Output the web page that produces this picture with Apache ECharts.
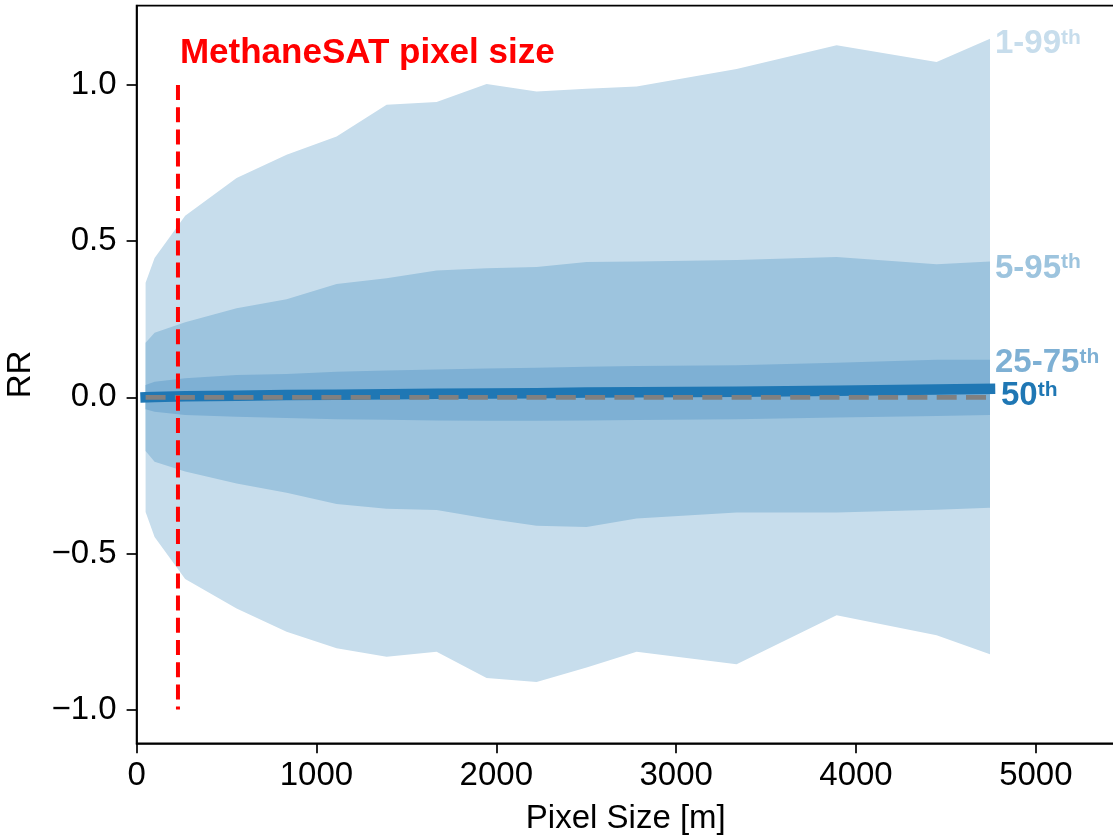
<!DOCTYPE html>
<html>
<head>
<meta charset="utf-8">
<script src="https://cdn.jsdelivr.net/npm/echarts@6/dist/echarts.min.js"></script>
<style>
html,body{margin:0;padding:0;background:#fff;}
#chart{width:1113px;height:837px;}
</style>
</head>
<body>
<div id="chart"></div>
<script>
// ---- data ----
const pixelSizes = [50, 100, 270, 556, 834, 1112, 1390, 1668, 1946, 2224, 2502, 2780, 3336, 3892, 4448, 4745];
const p99 = [0.367, 0.446, 0.581, 0.702, 0.777, 0.835, 0.937, 0.946, 1.003, 0.979, 0.988, 0.995, 1.051, 1.127, 1.074, 1.148];
const p01 = [-0.367, -0.447, -0.582, -0.676, -0.751, -0.804, -0.831, -0.815, -0.899, -0.912, -0.865, -0.815, -0.855, -0.698, -0.762, -0.823];
const p95 = [0.175, 0.207, 0.240, 0.285, 0.314, 0.363, 0.381, 0.406, 0.413, 0.417, 0.433, 0.435, 0.440, 0.449, 0.426, 0.435];
const p05 = [-0.172, -0.206, -0.238, -0.276, -0.306, -0.342, -0.357, -0.361, -0.388, -0.411, -0.415, -0.388, -0.369, -0.369, -0.360, -0.354];
const p75 = [0.039, 0.050, 0.061, 0.071, 0.075, 0.082, 0.086, 0.089, 0.092, 0.095, 0.098, 0.100, 0.103, 0.111, 0.120, 0.120];
const p25 = [-0.038, -0.046, -0.057, -0.062, -0.066, -0.070, -0.072, -0.074, -0.075, -0.075, -0.074, -0.073, -0.070, -0.065, -0.060, -0.057];
const p50 = [0.000, 0.001, 0.003, 0.005, 0.007, 0.008, 0.010, 0.011, 0.012, 0.013, 0.015, 0.016, 0.018, 0.021, 0.025, 0.027];
const methaneSatPixel = 230;
const methaneSatLineRange = [1.0, -1.0];
const annotationText = 'MethaneSAT pixel size';
const annotationPos = [241, 1.10];
const bandLabels = ['1-99', '5-95', '25-75', '50'];
const xTicks = [0, 1000, 2000, 3000, 4000, 5000];
const yTicks = [-1.0, -0.5, 0.0, 0.5, 1.0];
const xTitle = 'Pixel Size [m]';
const yTitle = 'RR';

const C_OUT = 'rgb(199,221,236)';
const C_MID = 'rgb(157,196,222)';
const C_IN = 'rgb(126,176,212)';
const C_MED = '#1f77b4';
const FONT = '"Liberation Sans", Arial, Helvetica, sans-serif';

function bandSeries(lo, hi, color, z) {
  return {
    type: 'custom',
    z: z,
    clip: true,
    silent: true,
    data: [[pixelSizes[0], lo[0]]],
    renderItem: function (params, api) {
      const pts = [];
      for (let i = 0; i < pixelSizes.length; i++) pts.push(api.coord([pixelSizes[i], hi[i]]));
      for (let i = pixelSizes.length - 1; i >= 0; i--) pts.push(api.coord([pixelSizes[i], lo[i]]));
      return { type: 'polygon', shape: { points: pts }, style: { fill: color, stroke: null } };
    }
  };
}

const chart = echarts.init(document.getElementById('chart'), null, { renderer: 'canvas' });
const option = {
  animation: false,
  backgroundColor: '#fff',
  grid: {
    left: 136.6, top: 5.7, right: -2, bottom: 93.7,
    show: true, borderColor: '#000', borderWidth: 1.7,
    containLabel: false, outerBoundsMode: 'none'
  },
  xAxis: {
    type: 'value', min: 0, max: 5440,
    name: xTitle, nameLocation: 'middle', nameGap: 59,
    nameTextStyle: { fontFamily: FONT, fontSize: 33, color: '#000' },
    axisLine: { show: true, onZero: false, lineStyle: { color: '#000', width: 1.7 } },
    axisTick: { show: true, inside: false, length: 10, lineStyle: { color: '#000', width: 1.7 }, customValues: xTicks },
    axisLabel: { fontFamily: FONT, fontSize: 33, color: '#000', margin: 16, customValues: xTicks,
      formatter: v => String(v) },
    splitLine: { show: false }
  },
  yAxis: {
    type: 'value', min: -1.108, max: 1.254,
    name: yTitle, nameLocation: 'middle', nameGap: 99,
    nameTextStyle: { fontFamily: FONT, fontSize: 33, color: '#000' },
    axisLine: { show: true, onZero: false, lineStyle: { color: '#000', width: 1.7 } },
    axisTick: { show: true, inside: false, length: 10, lineStyle: { color: '#000', width: 1.7 }, customValues: yTicks },
    axisLabel: { fontFamily: FONT, fontSize: 33, color: '#000', margin: 20, customValues: yTicks,
      formatter: v => Number(v).toFixed(1).replace('-', '\u2212') },
    splitLine: { show: false }
  },
  series: [
    bandSeries(p01, p99, C_OUT, 1),
    bandSeries(p05, p95, C_MID, 2),
    bandSeries(p25, p75, C_IN, 3),
    {
      type: 'line', z: 4, silent: true, showSymbol: false, symbol: 'none',
      data: pixelSizes.map((x, i) => [x, p50[i]]),
      lineStyle: { color: C_MED, width: 10.5, cap: 'square', join: 'miter' }
    },
    {
      type: 'line', z: 5, silent: true, showSymbol: false, symbol: 'none',
      data: [[pixelSizes[0], 0], [pixelSizes[pixelSizes.length - 1], 0]],
      lineStyle: { color: '#808080', width: 4.8, type: [20, 9.3], cap: 'butt' }
    },
    {
      type: 'line', z: 6, silent: true, showSymbol: false, symbol: 'none',
      data: [[methaneSatPixel, methaneSatLineRange[0]], [methaneSatPixel, methaneSatLineRange[1]]],
      lineStyle: { color: '#ff0000', width: 4, type: [15, 7.2], cap: 'butt' }
    }
  ]
};
chart.setOption(option);

// annotations placed via the chart's own coordinate conversion
const last = pixelSizes.length - 1;
const toPx = (x, y) => chart.convertToPixel({ gridIndex: 0 }, [x, y]);
const ann = toPx(annotationPos[0], annotationPos[1]);
const labelDefs = [
  { text: bandLabels[0], y: p99[last], color: C_OUT, dx: 5, dy: 5.5 },
  { text: bandLabels[1], y: p95[last], color: C_MID, dx: 5, dy: 7 },
  { text: bandLabels[2], y: p75[last], color: C_IN, dx: 5, dy: 3 },
  { text: bandLabels[3], y: p50[last], color: C_MED, dx: 11, dy: 7 }
];
const graphics = [{
  type: 'text', x: ann[0], y: ann[1], z: 100,
  style: { text: annotationText, fill: '#ff0000', font: 'bold 35px ' + FONT, textAlign: 'left', textVerticalAlign: 'middle' }
}];
labelDefs.forEach(d => {
  const p = toPx(pixelSizes[last], d.y);
  graphics.push({
    type: 'text', x: p[0] + d.dx, y: p[1] + d.dy, z: 100,
    style: {
      text: '{m|' + d.text + '}{s|th}',
      textAlign: 'left', textVerticalAlign: 'middle',
      rich: {
        m: { fontFamily: FONT, fontWeight: 'bold', fontSize: 33, fill: d.color, color: d.color, lineHeight: 33 },
        s: { fontFamily: FONT, fontWeight: 'bold', fontSize: 21, fill: d.color, color: d.color, verticalAlign: 'top', lineHeight: 33 }
      }
    }
  });
});
chart.setOption({ graphic: graphics });
</script>
</body>
</html>
